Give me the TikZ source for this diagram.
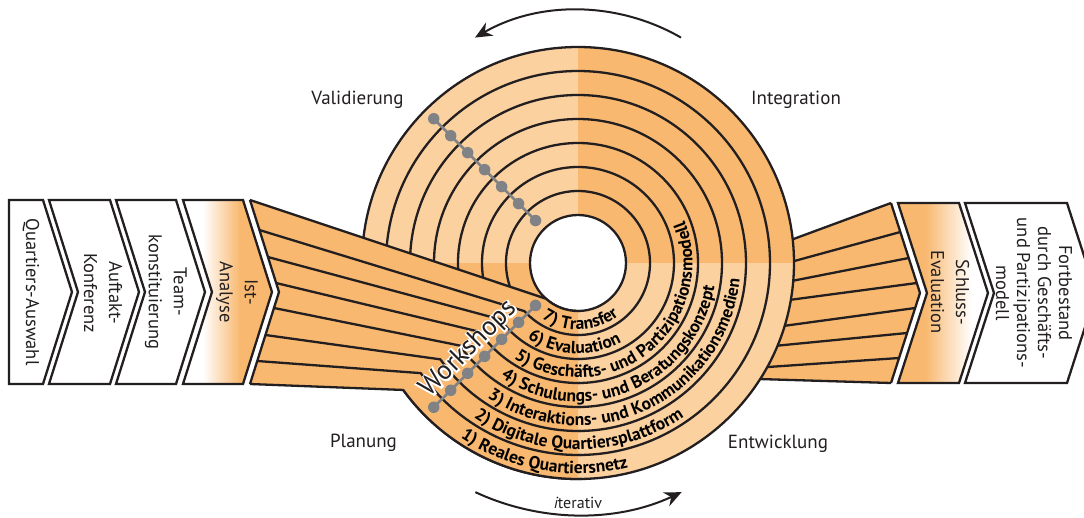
\documentclass[tikz,border=0pt]{standalone}
\usepackage{fontspec}
\setmainfont{PT Sans}
\newfontfamily\halofont{PT Sans}[FakeBold=12]
\usetikzlibrary{calc,arrows.meta,decorations.text}

\definecolor{ordark}{HTML}{F8B86F}
\definecolor{orlight}{HTML}{FCD1A0}
\definecolor{ink}{HTML}{231F20}
\definecolor{dotgray}{HTML}{808285}

\pgfdeclarehorizontalshading{istfade}{100bp}{color(0bp)=(white); color(36bp)=(white); color(57bp)=(ordark); color(100bp)=(ordark)}
\pgfdeclarehorizontalshading{schlussfade}{100bp}{color(0bp)=(ordark); color(40bp)=(ordark); color(66bp)=(white); color(100bp)=(white)}

% text set along a ring, starting at angle #1 on radius #2
\newcommand\ringlabel[3]{%
  \path[decorate, decoration={text along path, text align=left,
    text={|\fontsize{17.5}{20}\selectfont\bfseries|#3}}]
    (#1:#2) arc (#1:440:#2);}

\begin{document}
\begin{tikzpicture}[x=1pt, y=1pt,
  outline/.style={draw=ink, line width=2.3pt, line join=miter},
  bandline/.style={draw=ink, line width=2.3pt, line join=round},
  phase/.style={font=\fontsize{19}{24}\selectfont, text=ink, anchor=base, inner sep=0pt},
  steptext/.style={rotate=-90, align=center, font=\fontsize{18.5}{25}\selectfont, text=ink, inner sep=0pt},
  dot/.style={circle, fill=dotgray, minimum size=11.5pt, inner sep=0pt},
  dotline/.style={draw=dotgray, line width=2.8pt},
  cyclearrow/.style={draw=ink, line width=2pt, -{Stealth[length=17pt, width=15pt]}},
  workshops/.style={rotate=45, font=\fontsize{27}{30}\selectfont, inner sep=0pt},
]
\useasboundingbox (-578,-254) rectangle (506,263);
\fill[white] (-578,-254) rectangle (506,263);

% ---------- right fan of bands (lies under the ring disc) ----------
\coordinate (R7) at (313,60);
\coordinate (R6) at (322.3,31);
\coordinate (R5) at (330.7,5);
\coordinate (R4) at (338.8,-20);
\coordinate (Rt) at (342,-30);
\coordinate (R3) at (337.2,-45);
\coordinate (R2) at (329.1,-70);
\coordinate (R1) at (321.1,-95);
\coordinate (R0) at (313,-120);
\coordinate (C7) at (6.3:216);
\coordinate (C6) at (0.5:216);
\coordinate (C5) at (-4.7:216);
\coordinate (C4) at (-9.8:216);
\coordinate (C3) at (-16.9:216);
\coordinate (C2) at (-22.5:216);
\coordinate (C1) at (-28.8:216);
\coordinate (C0) at (-32.5:216);
\fill[ordark] ($(R7)!1.15!(C7)$) -- (R7) -- (Rt) -- (R0) -- ($(R0)!1.15!(C0)$) -- cycle;
\foreach \k in {0,...,7} \draw[bandline] (R\k) -- ($(R\k)!1.15!(C\k)$);
\draw[outline] (R7) -- (Rt) -- (R0);

% ---------- ring disc ----------
\fill[orlight] (90:48) arc (90:180:48) -- (180:216) arc (180:90:216) -- cycle;
\fill[ordark] (0:48) arc (0:90:48) -- (90:216) arc (90:0:216) -- cycle;
\fill[ordark] (180:48) arc (180:270:48) -- (270:216) arc (270:180:216) -- cycle;
\fill[orlight] (270:48) arc (270:360:48) -- (0:216) arc (360:270:216) -- cycle;
\foreach \r in {48,72,...,216} \draw[bandline] (0,0) circle (\r);

% ---------- left bundle of bands running into the rings ----------
\coordinate (L0) at (-328,-121);
\coordinate (L1) at (-320.7,-98);
\coordinate (L2) at (-312.5,-72);
\coordinate (L3) at (-303.9,-45);
\coordinate (Ln) at (-299,-29);
\coordinate (L4) at (-302,-20);
\coordinate (L5) at (-310.1,6);
\coordinate (L6) at (-318.6,33);
\coordinate (L7) at (-328,63);
\fill[ordark] (L7) -- (228:48) arc (228:270:48) -- (270:216) arc (270:216:216) -- (L0) -- (Ln) -- cycle;
\draw[bandline] (L7) -- (228:48) arc (228:271:48);
\draw[bandline] (L6) -- (222:72) arc (222:271:72);
\draw[bandline] (L5) -- (216:96) arc (216:271:96);
\draw[bandline] (L4) -- (215:120) arc (215:271:120);
\draw[bandline] (L3) -- (215:144) arc (215:271:144);
\draw[bandline] (L2) -- (215:168) arc (215:271:168);
\draw[bandline] (L1) -- (215:192) arc (215:271:192);
\draw[bandline] (L0) -- (216:216) arc (216:271:216);
\draw[outline] (L7) -- (Ln) -- (L0);

% ---------- process chevrons ----------
\draw[outline, fill=white] (-569,63) -- (-535,63) -- (-506,-29) -- (-535,-121) -- (-569,-121) -- cycle;
\draw[outline, fill=white] (-529,63) -- (-468,63) -- (-439,-29) -- (-468,-121) -- (-529,-121) -- (-500,-29) -- cycle;
\draw[outline, fill=white] (-462,63) -- (-402,63) -- (-373,-29) -- (-402,-121) -- (-462,-121) -- (-433,-29) -- cycle;
\shadedraw[outline, shading=istfade] (-395,63) -- (-335,63) -- (-306,-29) -- (-335,-121) -- (-395,-121) -- (-366,-29) -- cycle;
\shadedraw[outline, shading=schlussfade] (320,60) -- (381,60) -- (410,-30) -- (381,-120) -- (320,-120) -- (349,-30) -- cycle;
\draw[outline, fill=white] (387,60) -- (489,60) -- (518,-30) -- (489,-120) -- (387,-120) -- (416,-30) -- cycle;

\node[steptext] (t1) at (-547,-29) {Quartiers-Auswahl};
\node[steptext] (t2) at (-475,-30) {Auftakt-\\Konferenz};
\node[steptext] (t3) at (-412,-29) {Team-\\konstituierung};
\node[steptext] (t4) at (-341,-29) {Ist-\\Analyse};
\node[steptext] (t5) at (372,-29) {Schluss-\\Evaluation};
\node[steptext, font=\fontsize{18.5}{21}\selectfont] (t6) at (456,-30) {Fortbestand\\durch Geschäfts-\\und Partizipations-\\modell};

% ---------- workshop markers ----------
\foreach \r [count=\i] in {204,180,156,132,108,84,60} {
  \coordinate (u\i) at (135:\r);
  \coordinate (w\i) at (225:\r);
}
\draw[dotline] (u1) -- (u7);
\draw[dotline] (w1) -- (w7);
\foreach \i in {1,...,7} {
  \node[dot] (du\i) at (u\i) {};
  \node[dot] (dw\i) at (w\i) {};
}
% white outline behind the label, then the label itself
\node[workshops, text=white, font=\fontsize{27}{30}\halofont] (halo) at (-109,-86) {Workshops};
\node[workshops, text=ink] (ws) at (-109,-86) {Workshops};

% ---------- ring labels ----------
\ringlabel{236}{210.5}{1) Reales Quartiersnetz}
\ringlabel{236}{186.5}{2) Digitale Quartiersplattform}
\ringlabel{236}{162.5}{3) Interaktions- und Kommunikationsmedien}
\ringlabel{236}{138.5}{4) Schulungs- und Beratungskonzept}
\ringlabel{236}{114.5}{5) Geschäfts- und Partizipationsmodell}
\ringlabel{236}{90.5}{6) Evaluation}
\ringlabel{237}{66.5}{7) Transfer}

% ---------- phase names and cycle arrows ----------
\node[phase] (val) at (-220.5,158) {Validierung};
\node[phase] (int) at (218,158) {Integration};
\node[phase] (pla) at (-214.5,-184) {Planung};
\node[phase] (ent) at (200,-185) {Entwicklung};
\draw[cyclearrow] (0,47) ++(60:206) arc (60:120:206);
\draw[cyclearrow] (0.5,-8) ++(245:244) arc (245:295:244);
\node[phase, font=\fontsize{16}{20}\selectfont] (itv) at (0,-245) {{\itshape i}terativ};
\end{tikzpicture}
\end{document}
